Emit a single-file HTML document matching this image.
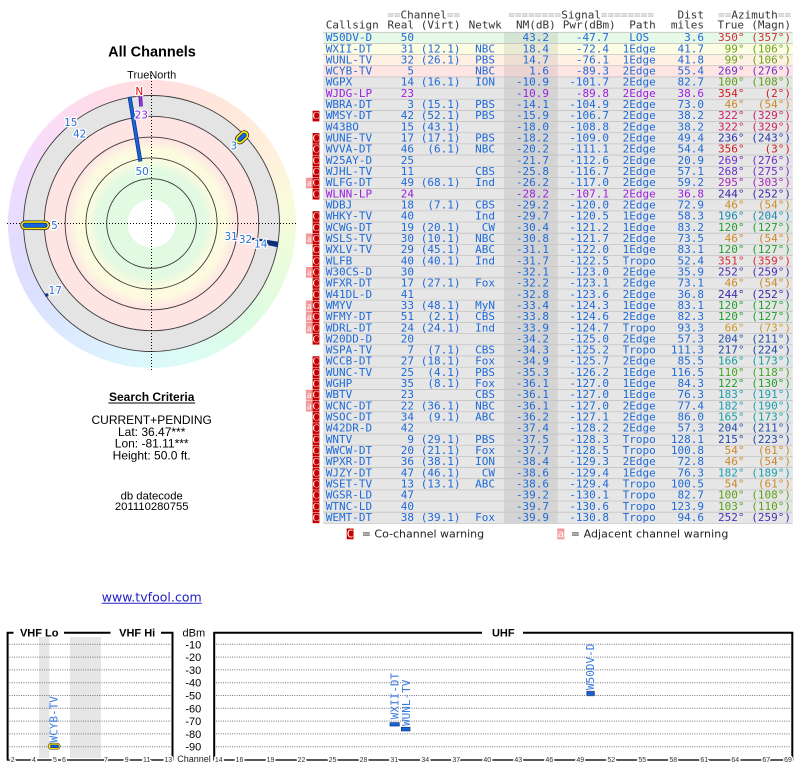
<!DOCTYPE html>
<html><head><meta charset="utf-8">
<style>
html,body{margin:0;padding:0;background:#fff;}
body{width:800px;height:768px;position:relative;overflow:hidden;}
#ring{position:absolute;left:7.5px;top:79.5px;width:288px;height:288px;border-radius:50%;
background:conic-gradient(#ffdfe0 0deg,#ffe6dc 30deg,#ffeedc 55deg,#fafadc 80deg,#ecfcdc 105deg,#dcfce2 135deg,#dcfcf2 160deg,#dcf8fc 185deg,#dcecff 212deg,#dce0ff 240deg,#e4dcff 265deg,#f0dcff 290deg,#fcdcf6 315deg,#ffdce8 340deg,#ffdfe0 360deg);}
svg{position:absolute;left:0;top:0;}
.t text{font-family:"DejaVu Sans Mono",monospace;font-size:11px;}
.e{text-anchor:end}.m{text-anchor:middle}
.sans{font-family:"Liberation Sans",Arial,sans-serif;}
.lb{font-family:"DejaVu Sans",sans-serif;font-size:10.5px;stroke:#fff;stroke-width:2.6px;paint-order:stroke;stroke-linejoin:round;}
.tk{font-family:"Liberation Sans",sans-serif;font-size:7px;fill:#333;stroke:#fff;stroke-width:3px;paint-order:stroke;text-anchor:middle;}
.rl{font-family:"DejaVu Sans Mono",monospace;font-size:11px;fill:#3a7ae0;}
</style></head>
<body>
<div id="ring"></div>
<svg width="800" height="768" viewBox="0 0 800 768" xmlns="http://www.w3.org/2000/svg">
<defs>
<radialGradient id="rg" gradientUnits="userSpaceOnUse" cx="151.5" cy="223.5" r="107.2">
<stop offset="0" stop-color="#e2fae2"/>
<stop offset="0.50" stop-color="#e2fae2"/>
<stop offset="0.60" stop-color="#fbfbdf"/>
<stop offset="0.69" stop-color="#fcfbdf"/>
<stop offset="0.80" stop-color="#ffe4e4"/>
<stop offset="1" stop-color="#ffe4e4"/>
</radialGradient>
<g id="wc"><rect x="312.6" y="-8.5" width="6.8" height="10.7" fill="#c40000"/><text x="316" y="0" text-anchor="middle" fill="#fff" font-size="10">C</text></g>
<g id="wa"><rect x="305.9" y="-8.5" width="6.7" height="10.7" fill="#f29a9a"/><text x="309.2" y="0" text-anchor="middle" fill="#fff" font-size="10">a</text></g>
</defs>

<!-- ===== Left titles ===== -->
<g class="sans">
<text x="152" y="56.6" text-anchor="middle" font-weight="bold" font-size="14.5" textLength="87.7" fill="#000">All Channels</text>
<text x="151.7" y="78.3" text-anchor="middle" font-size="11" fill="#111">TrueNorth</text>
</g>

<!-- ===== Polar chart ===== -->
<circle cx="151.5" cy="223.5" r="128" fill="#e4e4e4"/>
<circle cx="151.5" cy="223.5" r="107.2" fill="url(#rg)"/>
<circle cx="151.5" cy="223.5" r="24" fill="#fff"/>
<g fill="none" stroke="#3a3a3a" stroke-width="0.9">
<circle cx="151.5" cy="223.5" r="44.8"/>
<circle cx="151.5" cy="223.5" r="65.6"/>
<circle cx="151.5" cy="223.5" r="86.4"/>
<circle cx="151.5" cy="223.5" r="107.2"/>
<circle cx="151.5" cy="223.5" r="128"/>
</g>
<g stroke="#000" stroke-width="1" stroke-dasharray="1 2">
<line x1="7" y1="223.5" x2="296" y2="223.5"/>
<line x1="151.5" y1="75" x2="151.5" y2="371.5"/>
</g>
<!-- 50 -->
<line x1="140.4" y1="161.5" x2="129.6" y2="96.8" stroke="#0a3688" stroke-width="4"/>
<line x1="140.4" y1="161.5" x2="129.6" y2="96.8" stroke="#1766dd" stroke-width="2.3"/>
<!-- 23 -->
<line x1="140.3" y1="96" x2="141" y2="106.5" stroke="#4a1080" stroke-width="3.6"/>
<line x1="140.3" y1="96" x2="141" y2="106.5" stroke="#9a30e8" stroke-width="2.2"/>
<!-- 3 blob -->
<g stroke-linecap="round">
<line x1="239.84" y1="139.39" x2="244.16" y2="135.21" stroke="#333" stroke-width="10"/>
<line x1="239.84" y1="139.39" x2="244.16" y2="135.21" stroke="#ffe800" stroke-width="8.4"/>
<line x1="239.84" y1="139.39" x2="244.16" y2="135.21" stroke="#0a3688" stroke-width="5"/>
<line x1="239.84" y1="139.39" x2="244.16" y2="135.21" stroke="#1766dd" stroke-width="3.4"/>
<!-- 5 bar -->
<line x1="25" y1="225.2" x2="45" y2="225.3" stroke="#333" stroke-width="9.6"/>
<line x1="25" y1="225.2" x2="45" y2="225.3" stroke="#ffe800" stroke-width="8"/>
<line x1="25" y1="225.2" x2="45" y2="225.3" stroke="#0a3688" stroke-width="5"/>
<line x1="25" y1="225.2" x2="45" y2="225.3" stroke="#1766dd" stroke-width="3.4"/>
</g>
<!-- 31/32/14 -->
<g stroke="#0b2f7a" stroke-width="2">
<line x1="251.7" y1="238.6" x2="278" y2="242.6"/>
<line x1="262" y1="241.6" x2="278" y2="244.4"/>
<line x1="266" y1="243.8" x2="278" y2="246.3"/>
</g>
<circle cx="46.7" cy="295" r="1.8" fill="#0b3a8e"/>
<!-- labels -->
<g class="lb" text-anchor="middle" fill="#2a6fd8">
<text x="142.2" y="175">50</text>
<text x="233.8" y="149.3">3</text>
<text x="54.5" y="229">5</text>
<text x="231.2" y="240">31</text>
<text x="245.5" y="243">32</text>
<text x="260.8" y="247.5">14</text>
<text x="70.8" y="126">15</text>
<text x="79.7" y="137.5">42</text>
<text x="55.3" y="294">17</text>
<text x="141.3" y="118.3" fill="#8a22d8">23</text>
<text x="139.3" y="95" fill="#dd1111">N</text>
</g>

<!-- ===== Search criteria ===== -->
<g class="sans" text-anchor="middle" fill="#000">
<text x="151.7" y="401" font-weight="bold" font-size="12">Search Criteria</text>
<text x="151.7" y="423.8" font-size="12">CURRENT+PENDING</text>
<text x="151.7" y="435.8" font-size="12">Lat: 36.47***</text>
<text x="151.7" y="447.7" font-size="12">Lon: -81.11***</text>
<text x="151.7" y="459.6" font-size="12">Height: 50.0 ft.</text>
<text x="151.7" y="499.5" font-size="11.3">db datecode</text>
<text x="151.7" y="510" font-size="11.3">201110280755</text>
</g>
<line x1="108.3" y1="403" x2="195.2" y2="403" stroke="#000" stroke-width="1"/>

<!-- link -->
<text x="151.7" y="601.6" text-anchor="middle" font-family="DejaVu Sans,sans-serif" font-size="12.5" textLength="100" fill="#2222c4">www.tvfool.com</text>
<line x1="101.7" y1="603.2" x2="201.7" y2="603.2" stroke="#2222c4" stroke-width="1"/>

<!-- ===== Table ===== -->
<rect x="323.3" y="32.3" width="469.5" height="11.16" fill="#e6f8e6"/>
<rect x="323.3" y="43.46" width="469.5" height="11.16" fill="#fdfde4"/>
<rect x="323.3" y="54.62" width="469.5" height="11.16" fill="#fff0e4"/>
<rect x="323.3" y="65.78" width="469.5" height="11.16" fill="#ffe4e4"/>
<rect x="323.3" y="76.94" width="469.5" height="446.4" fill="#e6e6e6"/>
<rect x="504" y="32.3" width="53.7" height="491.04" fill="#000" fill-opacity="0.075"/>
<path stroke="#c4c4c4" stroke-width="0.8" fill="none" d="M323.3 32.3h469.5M323.3 43.46h469.5M323.3 54.62h469.5M323.3 65.78h469.5M323.3 76.94h469.5M323.3 88.1h469.5M323.3 99.26h469.5M323.3 110.42h469.5M323.3 121.58h469.5M323.3 132.74h469.5M323.3 143.9h469.5M323.3 155.06h469.5M323.3 166.22h469.5M323.3 177.38h469.5M323.3 188.54h469.5M323.3 199.7h469.5M323.3 210.86h469.5M323.3 222.02h469.5M323.3 233.18h469.5M323.3 244.34h469.5M323.3 255.5h469.5M323.3 266.66h469.5M323.3 277.82h469.5M323.3 288.98h469.5M323.3 300.14h469.5M323.3 311.3h469.5M323.3 322.46h469.5M323.3 333.62h469.5M323.3 344.78h469.5M323.3 355.94h469.5M323.3 367.1h469.5M323.3 378.26h469.5M323.3 389.42h469.5M323.3 400.58h469.5M323.3 411.74h469.5M323.3 422.9h469.5M323.3 434.06h469.5M323.3 445.22h469.5M323.3 456.38h469.5M323.3 467.54h469.5M323.3 478.7h469.5M323.3 489.86h469.5M323.3 501.02h469.5M323.3 512.18h469.5M323.3 523.34h469.5"/>

<g class="t">
<!-- header -->
<g fill="#333">
<text x="387.3" y="18.5"><tspan fill="#aaa">==</tspan>Channel<tspan fill="#aaa">==</tspan></text>
<text x="508.3" y="18.5"><tspan fill="#aaa">========</tspan>Signal<tspan fill="#aaa">========</tspan></text>
<text x="704" y="18.5" class="e">Dist</text>
<text x="791" y="18.5" class="e"><tspan fill="#aaa">==</tspan>Azimuth<tspan fill="#aaa">==</tspan></text>
<text x="325.8" y="28.5">Callsign</text>
<text x="414" y="28.5" class="e">Real</text>
<text x="460.5" y="28.5" class="e">(Virt)</text>
<text x="501.8" y="28.5" class="e">Netwk</text>
<text x="555.8" y="28.5" class="e">NM(dB)</text>
<text x="615.7" y="28.5" class="e">Pwr(dBm)</text>
<text x="655.8" y="28.5" class="e">Path</text>
<text x="704" y="28.5" class="e">miles</text>
<text x="744" y="28.5" class="e">True</text>
<text x="791" y="28.5" class="e">(Magn)</text>
</g>

<g transform="translate(0,41.1)" fill="#1e6ad8"><text x="325.8">W50DV-D</text><text x="414" class="e">50</text><text x="549" class="e">43.2</text><text x="609" class="e">-47.7</text><text x="639.2" class="m">LOS</text><text x="704" class="e">3.6</text><g fill="#d42a3a"><text x="744.5" class="e">350°</text><text x="791" class="e">(357°)</text></g></g>
<g transform="translate(0,52.26)" fill="#1e6ad8"><text x="325.8">WXII-DT</text><text x="414" class="e">31</text><text x="460.5" class="e">(12.1)</text><text x="495" class="e">NBC</text><text x="549" class="e">18.4</text><text x="609" class="e">-72.4</text><text x="639.2" class="m">1Edge</text><text x="704" class="e">41.7</text><g fill="#68a418"><text x="744.5" class="e">99°</text><text x="791" class="e">(106°)</text></g></g>
<g transform="translate(0,63.42)" fill="#1e6ad8"><text x="325.8">WUNL-TV</text><text x="414" class="e">32</text><text x="460.5" class="e">(26.1)</text><text x="495" class="e">PBS</text><text x="549" class="e">14.7</text><text x="609" class="e">-76.1</text><text x="639.2" class="m">1Edge</text><text x="704" class="e">41.8</text><g fill="#68a418"><text x="744.5" class="e">99°</text><text x="791" class="e">(106°)</text></g></g>
<g transform="translate(0,74.58)" fill="#1e6ad8"><text x="325.8">WCYB-TV</text><text x="414" class="e">5</text><text x="495" class="e">NBC</text><text x="549" class="e">1.6</text><text x="609" class="e">-89.3</text><text x="639.2" class="m">2Edge</text><text x="704" class="e">55.4</text><g fill="#7030c8"><text x="744.5" class="e">269°</text><text x="791" class="e">(276°)</text></g></g>
<g transform="translate(0,85.74)" fill="#1e6ad8"><text x="325.8">WGPX</text><text x="414" class="e">14</text><text x="460.5" class="e">(16.1)</text><text x="495" class="e">ION</text><text x="549" class="e">-10.9</text><text x="609" class="e">-101.7</text><text x="639.2" class="m">2Edge</text><text x="704" class="e">82.7</text><g fill="#5ea01a"><text x="744.5" class="e">100°</text><text x="791" class="e">(108°)</text></g></g>
<g transform="translate(0,96.9)" fill="#9a20e0"><text x="325.8">WJDG-LP</text><text x="414" class="e">23</text><text x="549" class="e">-10.9</text><text x="609" class="e">-89.8</text><text x="639.2" class="m">2Edge</text><text x="704" class="e">38.6</text><g fill="#d01c1c"><text x="744.5" class="e">354°</text><text x="791" class="e">(2°)</text></g></g>
<g transform="translate(0,108.06)" fill="#1e6ad8"><text x="325.8">WBRA-DT</text><text x="414" class="e">3</text><text x="460.5" class="e">(15.1)</text><text x="495" class="e">PBS</text><text x="549" class="e">-14.1</text><text x="609" class="e">-104.9</text><text x="639.2" class="m">2Edge</text><text x="704" class="e">73.0</text><g fill="#cc8a2a"><text x="744.5" class="e">46°</text><text x="791" class="e">(54°)</text></g></g>
<g transform="translate(0,119.22)" fill="#1e6ad8"><use href="#wc"/><text x="325.8">WMSY-DT</text><text x="414" class="e">42</text><text x="460.5" class="e">(52.1)</text><text x="495" class="e">PBS</text><text x="549" class="e">-15.9</text><text x="609" class="e">-106.7</text><text x="639.2" class="m">2Edge</text><text x="704" class="e">38.2</text><g fill="#cc2062"><text x="744.5" class="e">322°</text><text x="791" class="e">(329°)</text></g></g>
<g transform="translate(0,130.38)" fill="#1e6ad8"><text x="325.8">W43BO</text><text x="414" class="e">15</text><text x="460.5" class="e">(43.1)</text><text x="549" class="e">-18.0</text><text x="609" class="e">-108.8</text><text x="639.2" class="m">2Edge</text><text x="704" class="e">38.2</text><g fill="#cc2062"><text x="744.5" class="e">322°</text><text x="791" class="e">(329°)</text></g></g>
<g transform="translate(0,141.54)" fill="#1e6ad8"><use href="#wc"/><text x="325.8">WUNE-TV</text><text x="414" class="e">17</text><text x="460.5" class="e">(17.1)</text><text x="495" class="e">PBS</text><text x="549" class="e">-18.2</text><text x="609" class="e">-109.0</text><text x="639.2" class="m">2Edge</text><text x="704" class="e">49.4</text><g fill="#2a36b0"><text x="744.5" class="e">236°</text><text x="791" class="e">(243°)</text></g></g>
<g transform="translate(0,152.7)" fill="#1e6ad8"><use href="#wc"/><text x="325.8">WVVA-DT</text><text x="414" class="e">46</text><text x="460.5" class="e">(6.1)</text><text x="495" class="e">NBC</text><text x="549" class="e">-20.2</text><text x="609" class="e">-111.1</text><text x="639.2" class="m">2Edge</text><text x="704" class="e">54.4</text><g fill="#d01c1c"><text x="744.5" class="e">356°</text><text x="791" class="e">(3°)</text></g></g>
<g transform="translate(0,163.86)" fill="#1e6ad8"><use href="#wc"/><text x="325.8">W25AY-D</text><text x="414" class="e">25</text><text x="549" class="e">-21.7</text><text x="609" class="e">-112.6</text><text x="639.2" class="m">2Edge</text><text x="704" class="e">20.9</text><g fill="#7030c8"><text x="744.5" class="e">269°</text><text x="791" class="e">(276°)</text></g></g>
<g transform="translate(0,175.02)" fill="#1e6ad8"><use href="#wc"/><text x="325.8">WJHL-TV</text><text x="414" class="e">11</text><text x="495" class="e">CBS</text><text x="549" class="e">-25.8</text><text x="609" class="e">-116.7</text><text x="639.2" class="m">2Edge</text><text x="704" class="e">57.1</text><g fill="#7030c8"><text x="744.5" class="e">268°</text><text x="791" class="e">(275°)</text></g></g>
<g transform="translate(0,186.18)" fill="#1e6ad8"><use href="#wa"/><use href="#wc"/><text x="325.8">WLFG-DT</text><text x="414" class="e">49</text><text x="460.5" class="e">(68.1)</text><text x="495" class="e">Ind</text><text x="549" class="e">-26.2</text><text x="609" class="e">-117.0</text><text x="639.2" class="m">2Edge</text><text x="704" class="e">59.2</text><g fill="#a828b8"><text x="744.5" class="e">295°</text><text x="791" class="e">(303°)</text></g></g>
<g transform="translate(0,197.34)" fill="#9a20e0"><use href="#wc"/><text x="325.8">WLNN-LP</text><text x="414" class="e">24</text><text x="549" class="e">-28.2</text><text x="609" class="e">-107.1</text><text x="639.2" class="m">2Edge</text><text x="704" class="e">36.8</text><g fill="#3a28a8"><text x="744.5" class="e">244°</text><text x="791" class="e">(252°)</text></g></g>
<g transform="translate(0,208.5)" fill="#1e6ad8"><text x="325.8">WDBJ</text><text x="414" class="e">18</text><text x="460.5" class="e">(7.1)</text><text x="495" class="e">CBS</text><text x="549" class="e">-29.2</text><text x="609" class="e">-120.0</text><text x="639.2" class="m">2Edge</text><text x="704" class="e">72.9</text><g fill="#cc8a2a"><text x="744.5" class="e">46°</text><text x="791" class="e">(54°)</text></g></g>
<g transform="translate(0,219.66)" fill="#1e6ad8"><use href="#wc"/><text x="325.8">WHKY-TV</text><text x="414" class="e">40</text><text x="495" class="e">Ind</text><text x="549" class="e">-29.7</text><text x="609" class="e">-120.5</text><text x="639.2" class="m">1Edge</text><text x="704" class="e">58.3</text><g fill="#1a88b0"><text x="744.5" class="e">196°</text><text x="791" class="e">(204°)</text></g></g>
<g transform="translate(0,230.82)" fill="#1e6ad8"><use href="#wc"/><text x="325.8">WCWG-DT</text><text x="414" class="e">19</text><text x="460.5" class="e">(20.1)</text><text x="495" class="e">CW</text><text x="549" class="e">-30.4</text><text x="609" class="e">-121.2</text><text x="639.2" class="m">1Edge</text><text x="704" class="e">83.2</text><g fill="#22a030"><text x="744.5" class="e">120°</text><text x="791" class="e">(127°)</text></g></g>
<g transform="translate(0,241.98)" fill="#1e6ad8"><use href="#wa"/><use href="#wc"/><text x="325.8">WSLS-TV</text><text x="414" class="e">30</text><text x="460.5" class="e">(10.1)</text><text x="495" class="e">NBC</text><text x="549" class="e">-30.8</text><text x="609" class="e">-121.7</text><text x="639.2" class="m">2Edge</text><text x="704" class="e">73.5</text><g fill="#cc8a2a"><text x="744.5" class="e">46°</text><text x="791" class="e">(54°)</text></g></g>
<g transform="translate(0,253.14)" fill="#1e6ad8"><use href="#wc"/><text x="325.8">WXLV-TV</text><text x="414" class="e">29</text><text x="460.5" class="e">(45.1)</text><text x="495" class="e">ABC</text><text x="549" class="e">-31.1</text><text x="609" class="e">-122.0</text><text x="639.2" class="m">1Edge</text><text x="704" class="e">83.1</text><g fill="#22a030"><text x="744.5" class="e">120°</text><text x="791" class="e">(127°)</text></g></g>
<g transform="translate(0,264.3)" fill="#1e6ad8"><use href="#wc"/><text x="325.8">WLFB</text><text x="414" class="e">40</text><text x="460.5" class="e">(40.1)</text><text x="495" class="e">Ind</text><text x="549" class="e">-31.7</text><text x="609" class="e">-122.5</text><text x="639.2" class="m">Tropo</text><text x="704" class="e">52.4</text><g fill="#d42a3a"><text x="744.5" class="e">351°</text><text x="791" class="e">(359°)</text></g></g>
<g transform="translate(0,275.46)" fill="#1e6ad8"><use href="#wa"/><use href="#wc"/><text x="325.8">W30CS-D</text><text x="414" class="e">30</text><text x="549" class="e">-32.1</text><text x="609" class="e">-123.0</text><text x="639.2" class="m">2Edge</text><text x="704" class="e">35.9</text><g fill="#4a2cb8"><text x="744.5" class="e">252°</text><text x="791" class="e">(259°)</text></g></g>
<g transform="translate(0,286.62)" fill="#1e6ad8"><use href="#wc"/><text x="325.8">WFXR-DT</text><text x="414" class="e">17</text><text x="460.5" class="e">(27.1)</text><text x="495" class="e">Fox</text><text x="549" class="e">-32.2</text><text x="609" class="e">-123.1</text><text x="639.2" class="m">2Edge</text><text x="704" class="e">73.1</text><g fill="#cc8a2a"><text x="744.5" class="e">46°</text><text x="791" class="e">(54°)</text></g></g>
<g transform="translate(0,297.78)" fill="#1e6ad8"><use href="#wc"/><text x="325.8">W41DL-D</text><text x="414" class="e">41</text><text x="549" class="e">-32.8</text><text x="609" class="e">-123.6</text><text x="639.2" class="m">2Edge</text><text x="704" class="e">36.8</text><g fill="#3a28a8"><text x="744.5" class="e">244°</text><text x="791" class="e">(252°)</text></g></g>
<g transform="translate(0,308.94)" fill="#1e6ad8"><use href="#wa"/><use href="#wc"/><text x="325.8">WMYV</text><text x="414" class="e">33</text><text x="460.5" class="e">(48.1)</text><text x="495" class="e">MyN</text><text x="549" class="e">-33.4</text><text x="609" class="e">-124.3</text><text x="639.2" class="m">1Edge</text><text x="704" class="e">83.1</text><g fill="#22a030"><text x="744.5" class="e">120°</text><text x="791" class="e">(127°)</text></g></g>
<g transform="translate(0,320.1)" fill="#1e6ad8"><use href="#wa"/><use href="#wc"/><text x="325.8">WFMY-DT</text><text x="414" class="e">51</text><text x="460.5" class="e">(2.1)</text><text x="495" class="e">CBS</text><text x="549" class="e">-33.8</text><text x="609" class="e">-124.6</text><text x="639.2" class="m">2Edge</text><text x="704" class="e">82.3</text><g fill="#22a030"><text x="744.5" class="e">120°</text><text x="791" class="e">(127°)</text></g></g>
<g transform="translate(0,331.26)" fill="#1e6ad8"><use href="#wa"/><use href="#wc"/><text x="325.8">WDRL-DT</text><text x="414" class="e">24</text><text x="460.5" class="e">(24.1)</text><text x="495" class="e">Ind</text><text x="549" class="e">-33.9</text><text x="609" class="e">-124.7</text><text x="639.2" class="m">Tropo</text><text x="704" class="e">93.3</text><g fill="#cc9a2a"><text x="744.5" class="e">66°</text><text x="791" class="e">(73°)</text></g></g>
<g transform="translate(0,342.42)" fill="#1e6ad8"><use href="#wc"/><text x="325.8">W20DD-D</text><text x="414" class="e">20</text><text x="549" class="e">-34.2</text><text x="609" class="e">-125.0</text><text x="639.2" class="m">2Edge</text><text x="704" class="e">57.3</text><g fill="#2050a8"><text x="744.5" class="e">204°</text><text x="791" class="e">(211°)</text></g></g>
<g transform="translate(0,353.58)" fill="#1e6ad8"><text x="325.8">WSPA-TV</text><text x="414" class="e">7</text><text x="460.5" class="e">(7.1)</text><text x="495" class="e">CBS</text><text x="549" class="e">-34.3</text><text x="609" class="e">-125.2</text><text x="639.2" class="m">Tropo</text><text x="704" class="e">111.3</text><g fill="#2048a8"><text x="744.5" class="e">217°</text><text x="791" class="e">(224°)</text></g></g>
<g transform="translate(0,364.74)" fill="#1e6ad8"><use href="#wc"/><text x="325.8">WCCB-DT</text><text x="414" class="e">27</text><text x="460.5" class="e">(18.1)</text><text x="495" class="e">Fox</text><text x="549" class="e">-34.9</text><text x="609" class="e">-125.7</text><text x="639.2" class="m">2Edge</text><text x="704" class="e">85.5</text><g fill="#18a0a0"><text x="744.5" class="e">166°</text><text x="791" class="e">(173°)</text></g></g>
<g transform="translate(0,375.9)" fill="#1e6ad8"><use href="#wc"/><text x="325.8">WUNC-TV</text><text x="414" class="e">25</text><text x="460.5" class="e">(4.1)</text><text x="495" class="e">PBS</text><text x="549" class="e">-35.3</text><text x="609" class="e">-126.2</text><text x="639.2" class="m">1Edge</text><text x="704" class="e">116.5</text><g fill="#44a822"><text x="744.5" class="e">110°</text><text x="791" class="e">(118°)</text></g></g>
<g transform="translate(0,387.06)" fill="#1e6ad8"><use href="#wc"/><text x="325.8">WGHP</text><text x="414" class="e">35</text><text x="460.5" class="e">(8.1)</text><text x="495" class="e">Fox</text><text x="549" class="e">-36.1</text><text x="609" class="e">-127.0</text><text x="639.2" class="m">1Edge</text><text x="704" class="e">84.3</text><g fill="#22a02a"><text x="744.5" class="e">122°</text><text x="791" class="e">(130°)</text></g></g>
<g transform="translate(0,398.22)" fill="#1e6ad8"><use href="#wa"/><use href="#wc"/><text x="325.8">WBTV</text><text x="414" class="e">23</text><text x="495" class="e">CBS</text><text x="549" class="e">-36.1</text><text x="609" class="e">-127.0</text><text x="639.2" class="m">1Edge</text><text x="704" class="e">76.3</text><g fill="#1aa0b0"><text x="744.5" class="e">183°</text><text x="791" class="e">(191°)</text></g></g>
<g transform="translate(0,409.38)" fill="#1e6ad8"><use href="#wa"/><use href="#wc"/><text x="325.8">WCNC-DT</text><text x="414" class="e">22</text><text x="460.5" class="e">(36.1)</text><text x="495" class="e">NBC</text><text x="549" class="e">-36.1</text><text x="609" class="e">-127.0</text><text x="639.2" class="m">2Edge</text><text x="704" class="e">77.4</text><g fill="#1aa0b0"><text x="744.5" class="e">182°</text><text x="791" class="e">(190°)</text></g></g>
<g transform="translate(0,420.54)" fill="#1e6ad8"><use href="#wc"/><text x="325.8">WSOC-DT</text><text x="414" class="e">34</text><text x="460.5" class="e">(9.1)</text><text x="495" class="e">ABC</text><text x="549" class="e">-36.2</text><text x="609" class="e">-127.1</text><text x="639.2" class="m">2Edge</text><text x="704" class="e">86.0</text><g fill="#18a0a0"><text x="744.5" class="e">165°</text><text x="791" class="e">(173°)</text></g></g>
<g transform="translate(0,431.7)" fill="#1e6ad8"><use href="#wc"/><text x="325.8">W42DR-D</text><text x="414" class="e">42</text><text x="549" class="e">-37.4</text><text x="609" class="e">-128.2</text><text x="639.2" class="m">2Edge</text><text x="704" class="e">57.3</text><g fill="#2050a8"><text x="744.5" class="e">204°</text><text x="791" class="e">(211°)</text></g></g>
<g transform="translate(0,442.86)" fill="#1e6ad8"><use href="#wc"/><text x="325.8">WNTV</text><text x="414" class="e">9</text><text x="460.5" class="e">(29.1)</text><text x="495" class="e">PBS</text><text x="549" class="e">-37.5</text><text x="609" class="e">-128.3</text><text x="639.2" class="m">Tropo</text><text x="704" class="e">128.1</text><g fill="#2048a8"><text x="744.5" class="e">215°</text><text x="791" class="e">(223°)</text></g></g>
<g transform="translate(0,454.02)" fill="#1e6ad8"><use href="#wc"/><text x="325.8">WWCW-DT</text><text x="414" class="e">20</text><text x="460.5" class="e">(21.1)</text><text x="495" class="e">Fox</text><text x="549" class="e">-37.7</text><text x="609" class="e">-128.5</text><text x="639.2" class="m">Tropo</text><text x="704" class="e">100.8</text><g fill="#cc8a2a"><text x="744.5" class="e">54°</text><text x="791" class="e">(61°)</text></g></g>
<g transform="translate(0,465.18)" fill="#1e6ad8"><use href="#wc"/><text x="325.8">WPXR-DT</text><text x="414" class="e">36</text><text x="460.5" class="e">(38.1)</text><text x="495" class="e">ION</text><text x="549" class="e">-38.4</text><text x="609" class="e">-129.3</text><text x="639.2" class="m">2Edge</text><text x="704" class="e">72.8</text><g fill="#cc8a2a"><text x="744.5" class="e">46°</text><text x="791" class="e">(54°)</text></g></g>
<g transform="translate(0,476.34)" fill="#1e6ad8"><use href="#wc"/><text x="325.8">WJZY-DT</text><text x="414" class="e">47</text><text x="460.5" class="e">(46.1)</text><text x="495" class="e">CW</text><text x="549" class="e">-38.6</text><text x="609" class="e">-129.4</text><text x="639.2" class="m">1Edge</text><text x="704" class="e">76.3</text><g fill="#1aa0b0"><text x="744.5" class="e">182°</text><text x="791" class="e">(189°)</text></g></g>
<g transform="translate(0,487.5)" fill="#1e6ad8"><use href="#wc"/><text x="325.8">WSET-TV</text><text x="414" class="e">13</text><text x="460.5" class="e">(13.1)</text><text x="495" class="e">ABC</text><text x="549" class="e">-38.6</text><text x="609" class="e">-129.4</text><text x="639.2" class="m">Tropo</text><text x="704" class="e">100.5</text><g fill="#cc8a2a"><text x="744.5" class="e">54°</text><text x="791" class="e">(61°)</text></g></g>
<g transform="translate(0,498.66)" fill="#1e6ad8"><use href="#wc"/><text x="325.8">WGSR-LD</text><text x="414" class="e">47</text><text x="549" class="e">-39.2</text><text x="609" class="e">-130.1</text><text x="639.2" class="m">Tropo</text><text x="704" class="e">82.7</text><g fill="#5ea01a"><text x="744.5" class="e">100°</text><text x="791" class="e">(108°)</text></g></g>
<g transform="translate(0,509.82)" fill="#1e6ad8"><use href="#wc"/><text x="325.8">WTNC-LD</text><text x="414" class="e">40</text><text x="549" class="e">-39.7</text><text x="609" class="e">-130.6</text><text x="639.2" class="m">Tropo</text><text x="704" class="e">123.9</text><g fill="#58a21a"><text x="744.5" class="e">103°</text><text x="791" class="e">(110°)</text></g></g>
<g transform="translate(0,520.98)" fill="#1e6ad8"><use href="#wc"/><text x="325.8">WEMT-DT</text><text x="414" class="e">38</text><text x="460.5" class="e">(39.1)</text><text x="495" class="e">Fox</text><text x="549" class="e">-39.9</text><text x="609" class="e">-130.8</text><text x="639.2" class="m">Tropo</text><text x="704" class="e">94.6</text><g fill="#4a2cb8"><text x="744.5" class="e">252°</text><text x="791" class="e">(259°)</text></g></g>

<!-- legend -->
<rect x="346.7" y="528.5" width="6.8" height="10.8" fill="#c40000"/>
<text x="350.1" y="537.6" text-anchor="middle" fill="#fff" font-size="10">C</text>
<rect x="557.3" y="528.5" width="7" height="10.8" fill="#f29a9a"/>
<text x="560.8" y="537.6" text-anchor="middle" fill="#fff" font-size="10">a</text>
</g>
<text x="361.7" y="537.6" font-family="DejaVu Sans,sans-serif" font-size="11" textLength="122.4" fill="#222">= Co-channel warning</text>
<text x="570.7" y="537.6" font-family="DejaVu Sans,sans-serif" font-size="11" textLength="157.6" fill="#222">= Adjacent channel warning</text>

<!-- ===== Bottom chart ===== -->
<rect x="39" y="637" width="10.3" height="121" fill="#e6e6e6"/>
<rect x="70" y="637" width="31" height="121" fill="#e6e6e6"/>
<g stroke="#777" stroke-width="1" stroke-dasharray="1 1.3">
<path d="M9.5 644.3H171M9.5 657.1H171M9.5 669.9H171M9.5 682.7H171M9.5 695.5H171M9.5 708.3H171M9.5 721.1H171M9.5 733.9H171M9.5 746.7H171"/>
<path d="M216 644.3H791M216 657.1H791M216 669.9H791M216 682.7H791M216 695.5H791M216 708.3H791M216 721.1H791M216 733.9H791M216 746.7H791"/>
</g>
<g stroke="#000" stroke-width="2" fill="none">
<path d="M6.8 632.7H13.5M64 632.7H110.5M161 632.7H173.4"/>
<path d="M7.6 632V760.5M172.5 632V760.5"/>
<path d="M213.4 632.7H482M523 632.7H793.2"/>
<path d="M214.2 632V760.5M792.3 632V760.5"/>
</g>
<g stroke="#222" stroke-width="1.4">
<line x1="7" y1="760" x2="173" y2="760"/>
<line x1="213.5" y1="760" x2="793" y2="760"/>
</g>
<g class="sans" fill="#000">
<text x="39.2" y="636.4" text-anchor="middle" font-weight="bold" font-size="11">VHF Lo</text>
<text x="137.2" y="636.4" text-anchor="middle" font-weight="bold" font-size="11">VHF Hi</text>
<text x="503.3" y="636.4" text-anchor="middle" font-weight="bold" font-size="11">UHF</text>
<text x="193.8" y="636.4" text-anchor="middle" font-size="11">dBm</text>
<g text-anchor="middle" font-size="11">
<text x="193.3" y="648.3">-10</text>
<text x="193.3" y="661.1">-20</text>
<text x="193.3" y="673.9">-30</text>
<text x="193.3" y="686.7">-40</text>
<text x="193.3" y="699.5">-50</text>
<text x="193.3" y="712.3">-60</text>
<text x="193.3" y="725.1">-70</text>
<text x="193.3" y="737.9">-80</text>
<text x="193.3" y="750.7">-90</text>
</g>
<text x="194" y="762" text-anchor="middle" font-size="9" fill="#222">Channel</text>
</g>
<g class="tk">
<text x="12.7" y="762">2</text><text x="34" y="762">4</text><text x="55" y="762">5</text><text x="64" y="762">6</text>
<text x="106" y="762">7</text><text x="126.7" y="762">9</text><text x="146.7" y="762">11</text><text x="168.3" y="762">13</text>
<text x="218.8" y="762">14</text><text x="239.5" y="762">16</text><text x="270.5" y="762">19</text><text x="301.5" y="762">22</text>
<text x="332.5" y="762">25</text><text x="363.5" y="762">28</text><text x="394.3" y="762">31</text><text x="425.3" y="762">34</text>
<text x="456.3" y="762">37</text><text x="487.3" y="762">40</text><text x="518.3" y="762">43</text><text x="549.3" y="762">46</text>
<text x="580.3" y="762">49</text><text x="611.3" y="762">52</text><text x="642.3" y="762">55</text><text x="673.3" y="762">58</text>
<text x="704.3" y="762">61</text><text x="735.3" y="762">64</text><text x="766.3" y="762">67</text><text x="788" y="762">69</text>
</g>
<!-- station bars -->
<g stroke-linecap="round">
<line x1="51.3" y1="746.3" x2="57" y2="746.3" stroke="#555" stroke-width="7"/>
<line x1="51.3" y1="746.3" x2="57" y2="746.3" stroke="#ffe800" stroke-width="5.6"/>
</g>
<rect x="50.7" y="745" width="7.6" height="2.7" fill="#1462d4" stroke="#0a3688" stroke-width="0.6"/>
<rect x="389.6" y="722.2" width="10" height="4.3" fill="#bbb"/>
<rect x="390" y="722.7" width="9.3" height="3.3" fill="#1462d4" stroke="#0a3688" stroke-width="0.6"/>
<rect x="400.9" y="726.8" width="9.5" height="4.6" fill="#bbb"/>
<rect x="401.3" y="727.3" width="8.7" height="3.6" fill="#1462d4" stroke="#0a3688" stroke-width="0.6"/>
<rect x="586" y="690.6" width="9" height="5.8" fill="#bbb" rx="1.5"/>
<rect x="587" y="691.5" width="7.3" height="4" fill="#1462d4" stroke="#0a3688" stroke-width="0.6"/>
<g class="rl">
<text transform="translate(57.3,742.5) rotate(-90)">WCYB-TV</text>
<text transform="translate(398.3,719.2) rotate(-90)">WXII-DT</text>
<text transform="translate(410,726) rotate(-90)">WUNL-TV</text>
<text transform="translate(594,690) rotate(-90)">W50DV-D</text>
</g>
</svg>
</body></html>
